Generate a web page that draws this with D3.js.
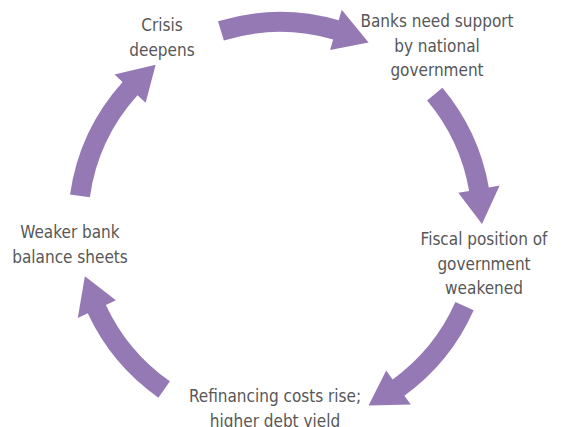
<!DOCTYPE html>
<html>
<head>
<meta charset="utf-8">
<script src="https://cdn.jsdelivr.net/npm/d3@7"></script>
<style>
  body { margin: 0; background: #fff; }
  svg text { font-family: "DejaVu Sans Condensed", "DejaVu Sans", sans-serif; font-stretch: condensed; }
</style>
</head>
<body>
<div id="app"></div>
<script>
// steps of the cycle
const steps = [
  ['Crisis', 'deepens'],
  ['Banks need support', 'by national', 'government'],
  ['Fiscal position of', 'government', 'weakened'],
  ['Refinancing costs rise;', 'higher debt yield'],
  ['Weaker bank', 'balance sheets']
];
// arrows, degrees clockwise from top
const arrowStart = [-17, 50, 114, 215, 278];
const arrowEnd = [26, 90, 154, 255, 322];

const width = 566, height = 427;
const cx = 280, cy = 224, r = 202;
const shaftW = 20, headW = 42, headLen = 35;
const purple = '#9579b4';
const textColor = '#575757';

// label anchors (layout)
const labelPos = [[162, 31], [437, 27], [484, 245], [275, 402], [70, 238]];
const lineH = 24.5;

const svg = d3.select('#app').append('svg')
  .attr('width', width)
  .attr('height', height);

const angle = d3.scaleLinear()
  .domain([0, 360])
  .range([-Math.PI / 2, 3 * Math.PI / 2]);

function pt(rad, a) {
  return [cx + rad * Math.cos(a), cy + rad * Math.sin(a)];
}

function arrowPath(d0, d1) {
  let a0 = angle(d0), a1 = angle(d1);
  let ab = a1 - headLen / r;
  let p = d3.path();
  let s = pt(r + shaftW / 2, a0);
  p.moveTo(s[0], s[1]);
  p.arc(cx, cy, r + shaftW / 2, a0, ab, false);
  let h1 = pt(r + headW / 2, ab);
  p.lineTo(h1[0], h1[1]);
  let tip = pt(r, a1);
  p.lineTo(tip[0], tip[1]);
  let h2 = pt(r - headW / 2, ab);
  p.lineTo(h2[0], h2[1]);
  let e = pt(r - shaftW / 2, ab);
  p.lineTo(e[0], e[1]);
  p.arc(cx, cy, r - shaftW / 2, ab, a0, true);
  p.closePath();
  return p.toString();
}

svg.append('g')
  .selectAll('path')
  .data(arrowStart)
  .join('path')
  .attr('d', (d, i) => arrowPath(d, arrowEnd[i]))
  .attr('fill', purple);

let labels = svg.append('g')
  .selectAll('text')
  .data(steps)
  .join('text')
  .attr('text-anchor', 'middle')
  .attr('fill', textColor)
  .attr('font-size', 17);

labels.selectAll('tspan')
  .data((d, i) => d.map(t => ({ t: t, i: i })))
  .join('tspan')
  .attr('x', d => labelPos[d.i][0])
  .attr('y', (d, j) => labelPos[d.i][1] + j * lineH)
  .text(d => d.t);
</script>
</body>
</html>
